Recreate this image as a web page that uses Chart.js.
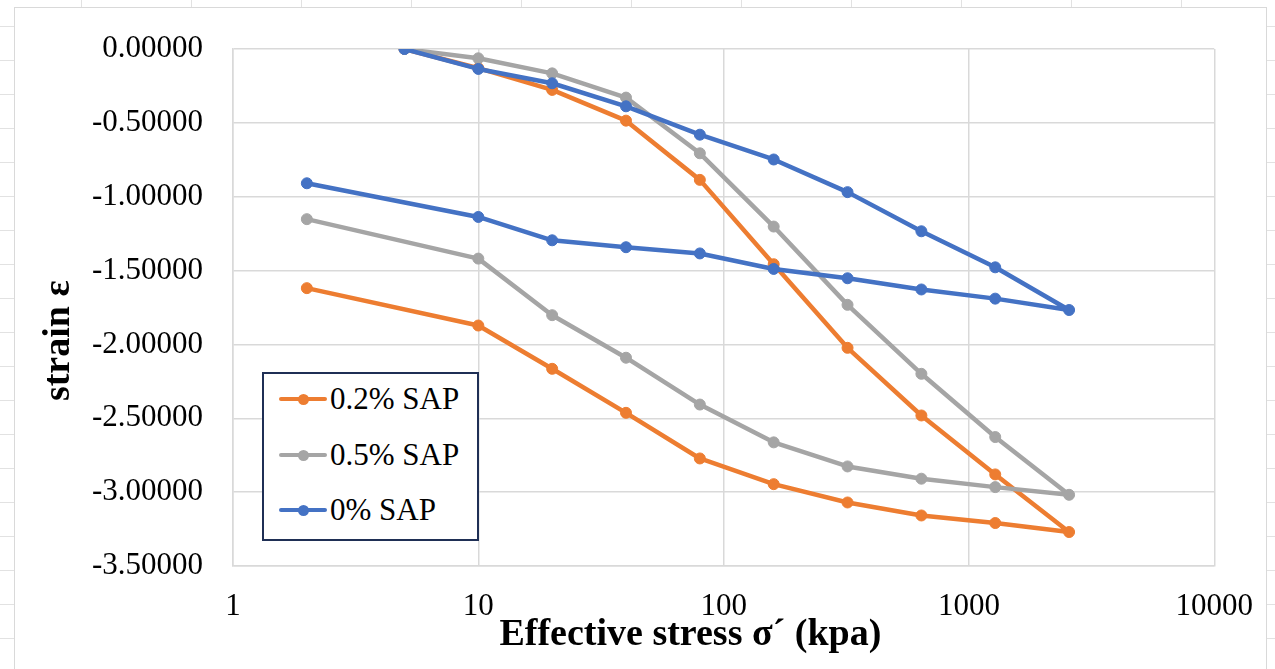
<!DOCTYPE html>
<html>
<head>
<meta charset="utf-8">
<script src="https://cdn.jsdelivr.net/npm/chart.js@4/dist/chart.umd.min.js"></script>
<style>
  html, body { margin: 0; padding: 0; }
  body {
    width: 1275px; height: 669px; overflow: hidden; position: relative;
    background-color: #fff;
    background-image:
      repeating-linear-gradient(to right, transparent 0, transparent 80px, #e2e2e2 80px, #e2e2e2 81px, transparent 81px, transparent 110px),
      repeating-linear-gradient(to bottom, transparent 0, transparent 26px, #e2e2e2 26px, #e2e2e2 27px, transparent 27px, transparent 34px);
    background-position: 1px 0, 0 0;
  }
  #frame {
    position: absolute; left: 14px; top: 7px; width: 1253px; height: 720px;
    background: #fff; border: 1.5px solid #d9d9d9; box-sizing: border-box;
  }
  #c { position: absolute; left: 0; top: 0; }
  #legend {
    position: absolute; left: 262px; top: 372px; width: 217px; height: 169px;
    border: 2px solid #1f2f55; box-sizing: border-box; background: #fff;
    font-family: "Liberation Serif", "Times New Roman", serif; font-size: 31px; color: #000;
  }
  .item { position: absolute; left: 15px; height: 40px; line-height: 40px; white-space: nowrap; }
  .swatch { position: absolute; left: 0; top: 18px; width: 48px; height: 4px; border-radius: 2px; }
  .dot { position: absolute; left: 19px; top: -3.5px; width: 11px; height: 11px; border-radius: 50%; }
  .lbl { position: absolute; left: 51px; top: 0; }
</style>
</head>
<body>
<div id="frame"></div>
<canvas id="c" width="1275" height="669"></canvas>
<div id="legend"></div>
<script>
// ---- Data ----
const stressLoad   = [5, 10, 20, 40, 80, 160, 320, 640, 1280, 2560];
const stressUnload = [1280, 640, 320, 160, 80, 40, 20, 10, 2];

const sap02Load   = [0, -0.130, -0.277, -0.485, -0.886, -1.457, -2.023, -2.481, -2.880, -3.270];
const sap02Unload = [-3.209, -3.158, -3.070, -2.946, -2.772, -2.463, -2.165, -1.872, -1.619];

const sap05Load   = [0, -0.063, -0.165, -0.329, -0.706, -1.202, -1.732, -2.199, -2.627, -3.018];
const sap05Unload = [-2.966, -2.909, -2.826, -2.663, -2.407, -2.090, -1.802, -1.419, -1.152];

const sap0Load    = [0, -0.135, -0.232, -0.388, -0.580, -0.748, -0.969, -1.234, -1.478, -1.767];
const sap0Unload  = [-1.690, -1.628, -1.552, -1.489, -1.384, -1.342, -1.295, -1.137, -0.909];

const seriesNames  = ['0.2% SAP', '0.5% SAP', '0% SAP'];
const seriesColors = ['#ED7D31', '#A5A5A5', '#4472C4'];
const xTicks = [1, 10, 100, 1000, 10000];
const yTicks = [0, -0.5, -1, -1.5, -2, -2.5, -3, -3.5];
const xTitle = 'Effective stress σ´ (kpa)';
const yTitle = 'strain ε';

function pts(loadY, unloadY) {
  const a = stressLoad.map((x, i) => ({ x: x, y: loadY[i] }));
  const b = stressUnload.map((x, i) => ({ x: x, y: unloadY[i] }));
  return a.concat(b);
}
const seriesData = [pts(sap02Load, sap02Unload), pts(sap05Load, sap05Unload), pts(sap0Load, sap0Unload)];

const serif = '"Liberation Serif", "Times New Roman", serif';
const grid = '#d9d9d9';

const datasets = seriesNames.map((name, i) => ({
  label: name,
  data: seriesData[i],
  borderColor: seriesColors[i],
  backgroundColor: seriesColors[i],
  pointBackgroundColor: seriesColors[i],
  pointBorderColor: seriesColors[i],
  borderWidth: 4.5,
  borderJoinStyle: 'round',
  borderCapStyle: 'round',
  pointRadius: 5.5,
  pointBorderWidth: 1,
  tension: 0,
  fill: false,
  order: 3 - i
}));

new Chart(document.getElementById('c'), {
  type: 'line',
  data: { datasets: datasets },
  options: {
    responsive: false,
    animation: false,
    devicePixelRatio: 1,
    layout: { padding: { left: 0, top: 49, right: 58, bottom: 0 } },
    plugins: { legend: { display: false }, tooltip: { enabled: false } },
    scales: {
      x: {
        type: 'logarithmic',
        min: 1, max: 10000,
        afterBuildTicks: (s) => { s.ticks = xTicks.map(v => ({ value: v })); },
        afterFit: (s) => { s.height = 103; },
        ticks: {
          autoSkip: false, maxRotation: 0, padding: 22, color: '#000',
          font: { family: serif, size: 31 },
          callback: (v) => String(v)
        },
        grid: { color: grid, lineWidth: 1.5, drawTicks: false },
        border: { color: grid, width: 1.5 },
        title: {
          display: true, text: xTitle + '\u00a0\u00a0\u00a0\u00a0\u00a0\u00a0\u00a0', color: '#000',
          font: { family: serif, size: 38, weight: 'bold' },
          padding: { top: 0, bottom: 11 }
        }
      },
      y: {
        type: 'linear',
        min: -3.5, max: 0,
        afterBuildTicks: (s) => { s.ticks = yTicks.map(v => ({ value: v })); },
        afterFit: (s) => { s.width = 233; },
        ticks: {
          padding: 30, color: '#000',
          font: { family: serif, size: 31 },
          callback: (v) => Number(v).toFixed(5)
        },
        grid: { color: grid, lineWidth: 1.5, drawTicks: false },
        border: { color: grid, width: 1.5 },
        title: {
          display: true, text: yTitle + '\u00a0\u00a0\u00a0\u00a0\u00a0\u00a0\u00a0', color: '#000',
          font: { family: serif, size: 38, weight: 'bold' },
          padding: { top: 36, bottom: 0 }
        }
      }
    }
  }
});

// HTML legend (inside the plot area, like the reference)
const legend = document.getElementById('legend');
const itemTops = [5, 61, 116];
seriesNames.forEach((name, i) => {
  const it = document.createElement('div');
  it.className = 'item';
  it.style.top = itemTops[i] + 'px';
  it.innerHTML = '<span class="swatch" style="background:' + seriesColors[i] + '"><span class="dot" style="background:' +
    seriesColors[i] + '"></span></span><span class="lbl">' + name + '</span>';
  legend.appendChild(it);
});
</script>
</body>
</html>
